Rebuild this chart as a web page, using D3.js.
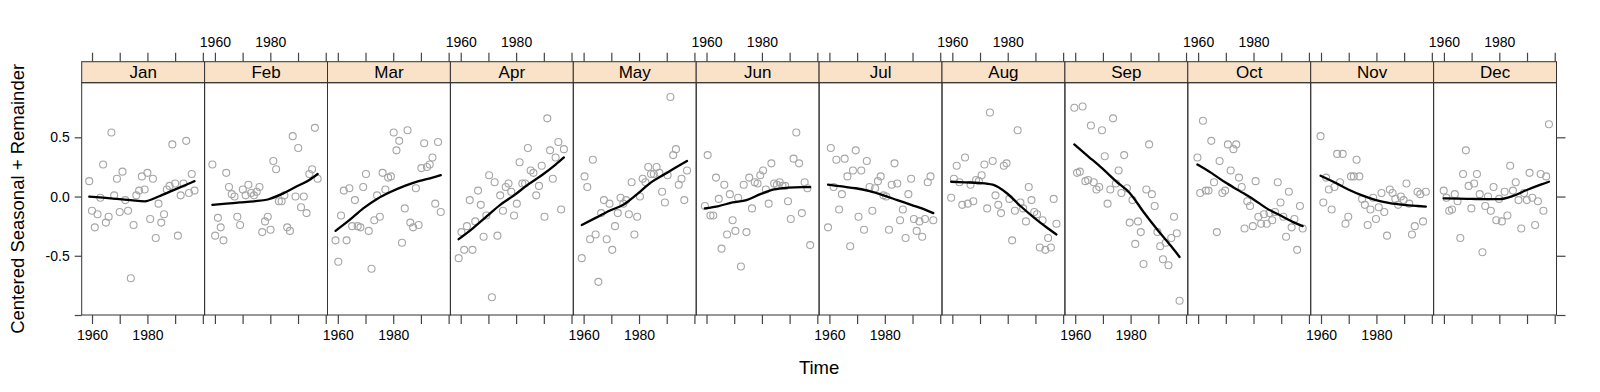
<!DOCTYPE html>
<html><head><meta charset="utf-8">
<script src="https://cdn.jsdelivr.net/npm/d3@7"></script>
<style>body{margin:0;background:#fff}svg{display:block}text{font-family:"Liberation Sans",Arial,Helvetica,sans-serif;fill:#000}</style>
</head><body>
<script>
const months = ["Jan","Feb","Mar","Apr","May","Jun","Jul","Aug","Sep","Oct","Nov","Dec"];
const years = [1959,1960,1961,1962,1963,1964,1965,1966,1967,1968,1969,1970,1971,1972,1973,1974,1975,1976,1977,1978,1979,1980,1981,1982,1983,1984,1985,1986,1987,1988,1989,1990,1991,1992,1993,1994,1995,1996,1997];
const xTicks = [1960,1970,1980,1990,2000];
const xTickLabels = ["1960","","1980","",""];
const yTicks = [0.5,0,-0.5,-1.0];
const yTickLabels = ["0.5","0.0","-0.5",""];
const trendYears = [1959,1964,1969,1974,1979,1984,1989,1994,1997];

const jan = [0.13,-0.12,-0.26,-0.15,-0.01,0.27,-0.22,-0.17,0.54,0.01,0.15,-0.13,0.21,-0.03,-0.12,-0.69,-0.24,0.01,0.05,0.17,0.06,0.20,-0.19,0.15,-0.35,-0.06,-0.22,-0.15,0.06,0.09,0.44,0.11,-0.33,0.01,0.11,0.47,0.03,0.19,0.05];
const feb = [0.27,-0.33,-0.18,-0.26,-0.37,0.20,0.08,0.02,0.00,-0.17,-0.24,0.06,0.01,0.10,0.03,0.01,0.04,0.08,-0.30,-0.21,-0.17,-0.28,0.30,0.23,-0.04,-0.04,0.01,-0.26,-0.29,0.51,0.00,0.41,-0.09,0.00,-0.14,0.19,0.23,0.58,0.15];
const mar = [-0.37,-0.55,-0.16,0.05,-0.37,0.07,-0.25,-0.03,-0.25,-0.26,0.08,0.19,-0.29,-0.61,-0.20,0.01,-0.17,0.20,0.06,0.16,0.17,0.54,0.39,0.47,-0.39,-0.10,0.56,-0.22,-0.26,0.07,-0.24,0.24,0.45,0.25,0.27,0.33,-0.06,0.46,-0.13];
const apr = [-0.52,-0.30,-0.45,-0.25,-0.03,-0.45,-0.21,0.05,-0.07,-0.34,-0.16,0.18,-0.85,0.12,-0.33,0.01,-0.12,0.08,0.11,0.04,-0.16,-0.06,0.29,0.11,0.11,0.41,0.22,0.20,0.01,0.09,0.26,-0.17,0.66,0.39,0.15,0.33,0.46,-0.11,0.40];
const may = [-0.52,0.17,0.08,-0.36,0.31,-0.32,-0.72,-0.14,-0.03,-0.36,-0.06,-0.45,-0.25,-0.14,-0.01,-0.06,-0.03,-0.15,0.12,-0.32,-0.17,0.00,0.15,0.12,0.25,0.19,0.19,0.25,0.20,0.04,-0.05,0.18,0.84,0.35,0.40,0.10,0.15,-0.03,0.22];
const jun = [-0.08,0.35,-0.16,-0.16,0.16,-0.02,-0.44,0.10,-0.32,0.02,-0.20,-0.29,-0.01,-0.59,0.10,-0.30,0.16,-0.10,0.12,0.11,0.18,0.22,0.06,-0.06,0.28,0.11,0.10,0.12,0.09,0.09,-0.04,-0.19,0.32,0.54,0.28,-0.14,0.12,0.07,-0.41];
const jul = [-0.26,0.41,0.08,0.31,-0.11,0.02,0.32,0.17,-0.42,0.22,0.39,-0.17,0.22,-0.28,0.30,0.08,-0.12,0.07,0.13,0.17,0.01,0.00,-0.28,0.10,0.28,0.11,-0.20,-0.11,-0.35,0.02,0.15,-0.19,-0.29,-0.21,-0.34,-0.19,0.12,0.17,-0.20];
const aug = [-0.01,0.15,0.26,0.12,-0.07,0.33,-0.06,0.10,-0.04,0.14,0.13,0.18,0.27,-0.10,0.71,0.30,0.01,-0.07,-0.14,0.26,0.28,-0.02,-0.37,-0.12,0.56,-0.05,-0.10,-0.21,0.08,-0.03,-0.13,-0.15,-0.43,-0.20,-0.45,-0.35,-0.43,-0.02,-0.23];
const sep = [0.75,0.20,0.21,0.76,0.13,0.14,0.60,0.12,0.06,0.08,0.56,0.34,-0.06,0.06,0.66,0.11,0.22,0.03,0.35,0.07,-0.22,-0.03,-0.40,-0.21,-0.30,-0.57,0.06,0.44,0.02,-0.08,-0.30,-0.42,-0.53,-0.39,-0.58,-0.35,-0.17,-0.31,-0.88];
const oct = [0.33,0.03,0.64,0.05,0.05,0.47,0.12,-0.30,0.30,0.03,0.05,0.44,0.22,0.40,0.44,0.16,0.08,-0.27,-0.04,-0.08,-0.25,0.13,-0.17,-0.23,-0.15,-0.23,-0.14,-0.20,-0.13,0.12,-0.05,-0.17,-0.34,0.04,-0.26,-0.19,-0.45,-0.08,-0.27];
const nov = [0.51,-0.05,0.16,0.06,-0.11,0.08,0.36,0.12,0.36,-0.23,-0.17,0.17,0.17,0.31,0.17,-0.02,-0.07,-0.24,-0.11,-0.01,-0.19,-0.09,0.03,-0.13,-0.33,0.06,0.03,-0.02,-0.07,0.00,-0.03,0.11,-0.06,-0.32,-0.25,0.04,0.02,-0.21,0.04];
const dec = [0.05,-0.01,-0.12,-0.11,0.02,-0.04,-0.35,0.19,0.39,0.09,-0.10,0.11,0.19,0.02,-0.47,-0.08,0.00,-0.12,0.08,-0.20,-0.02,-0.21,0.04,-0.16,0.26,0.05,0.12,-0.03,-0.27,0.03,-0.03,0.20,-0.01,-0.24,-0.04,0.19,-0.12,0.17,0.61];

const janTrend = [0.00,-0.01,-0.02,-0.03,-0.04,0.00,0.05,0.10,0.13];
const febTrend = [-0.07,-0.06,-0.05,-0.04,-0.025,0.02,0.08,0.14,0.19];
const marTrend = [-0.29,-0.20,-0.10,-0.02,0.04,0.09,0.13,0.16,0.18];
const aprTrend = [-0.36,-0.27,-0.17,-0.07,0.01,0.10,0.18,0.27,0.33];
const mayTrend = [-0.24,-0.18,-0.12,-0.07,0.02,0.12,0.19,0.26,0.30];
const junTrend = [-0.10,-0.08,-0.05,-0.03,0.02,0.06,0.075,0.08,0.08];
const julTrend = [0.10,0.085,0.07,0.045,0.01,-0.03,-0.07,-0.11,-0.14];
const augTrend = [0.125,0.12,0.115,0.10,0.03,-0.08,-0.18,-0.27,-0.32];
const sepTrend = [0.44,0.34,0.24,0.13,0.03,-0.13,-0.28,-0.42,-0.51];
const octTrend = [0.27,0.20,0.12,0.05,-0.02,-0.10,-0.16,-0.22,-0.25];
const novTrend = [0.175,0.12,0.06,0.01,-0.03,-0.055,-0.07,-0.08,-0.085];
const decTrend = [-0.015,-0.018,-0.02,-0.022,-0.022,0.005,0.055,0.10,0.125];

const series = [jan,feb,mar,apr,may,jun,jul,aug,sep,oct,nov,dec];
const trends = [janTrend,febTrend,marTrend,aprTrend,mayTrend,junTrend,julTrend,augTrend,sepTrend,octTrend,novTrend,decTrend];

const W = 1600, H = 392;
const left = 81.7, pw = 122.9, stripTop = 61.7, panelTop = 82.7, panelBottom = 315;
const svg = d3.select("body").append("svg").attr("width", W).attr("height", H);

const y = d3.scaleLinear().domain([-1.0, 0.961]).range([panelBottom, panelTop]);
const fullRight = left + pw * 12;
const border = "#333";
const tickFont = "14px";

months.forEach((m, i) => {
  const x0 = left + i * pw;
  const x = d3.scaleLinear().domain([1956.276, 2000.64]).range([x0, x0 + pw]);
  const g = svg.append("g");
  g.append("rect").attr("x", x0).attr("y", stripTop).attr("width", pw).attr("height", panelTop - stripTop)
    .attr("fill", "#f9e2c8").attr("stroke", border).attr("stroke-width", 1);
  g.append("text").attr("x", x0 + pw / 2).attr("y", stripTop + 16.3).attr("text-anchor", "middle")
    .style("font-size", "17px").text(m);
  g.append("rect").attr("x", x0).attr("y", panelTop).attr("width", pw).attr("height", panelBottom - panelTop)
    .attr("fill", "none").attr("stroke", border).attr("stroke-width", 1);
  const off = i / 12;
  g.selectAll("circle").data(series[i]).join("circle")
    .attr("cx", (d, k) => x(years[k] + off)).attr("cy", d => y(d)).attr("r", 3.5)
    .attr("fill", "none").attr("stroke", "#a6a6a6").attr("stroke-width", 1.1);
  const line = d3.line().x((d, k) => x(trendYears[k] + off)).y(d => y(d)).curve(d3.curveMonotoneX);
  g.append("path").attr("d", line(trends[i])).attr("fill", "none").attr("stroke", "#000").attr("stroke-width", 2.3)
    .attr("stroke-linejoin", "round").attr("stroke-linecap", "round");
  const bottomAxis = d3.axisBottom(x).tickValues(xTicks).tickSize(9).tickPadding(6)
    .tickFormat((d, k) => (i % 2 === 0 ? xTickLabels[k] : ""));
  const ba = g.append("g").attr("transform", `translate(0,${panelBottom})`).call(bottomAxis);
  const topAxis = d3.axisTop(x).tickValues(xTicks).tickSize(9).tickPadding(6)
    .tickFormat((d, k) => (i % 2 === 1 ? xTickLabels[k] : ""));
  const ta = g.append("g").attr("transform", `translate(0,${stripTop})`).call(topAxis);
  [ba, ta].forEach(a => {
    a.select(".domain").remove();
    a.selectAll("line").attr("stroke", "#444").attr("stroke-width", 1.2);
    a.selectAll("text").style("font-size", tickFont).style("font-family", "'Liberation Sans',Arial,sans-serif").attr("fill", "#000");
  });
});

const la = svg.append("g").attr("transform", `translate(${left},0)`)
  .call(d3.axisLeft(y).tickValues(yTicks).tickSize(7).tickPadding(5).tickFormat((d, k) => yTickLabels[k]));
const ra = svg.append("g").attr("transform", `translate(${fullRight},0)`)
  .call(d3.axisRight(y).tickValues(yTicks).tickSize(9).tickFormat(() => ""));
[la, ra].forEach(a => {
  a.select(".domain").remove();
  a.selectAll("line").attr("stroke", "#444").attr("stroke-width", 1.2);
  a.selectAll("text").style("font-size", tickFont).style("font-family", "'Liberation Sans',Arial,sans-serif").attr("fill", "#000");
});

svg.append("text").attr("x", (left + fullRight) / 2).attr("y", 374).attr("text-anchor", "middle")
  .style("font-size", "18.5px").text("Time");
svg.append("text").attr("transform", `translate(24,${(panelTop + panelBottom) / 2}) rotate(-90)`)
  .attr("text-anchor", "middle").style("font-size", "18.5px").text("Centered Seasonal + Remainder");
</script>
</body></html>
